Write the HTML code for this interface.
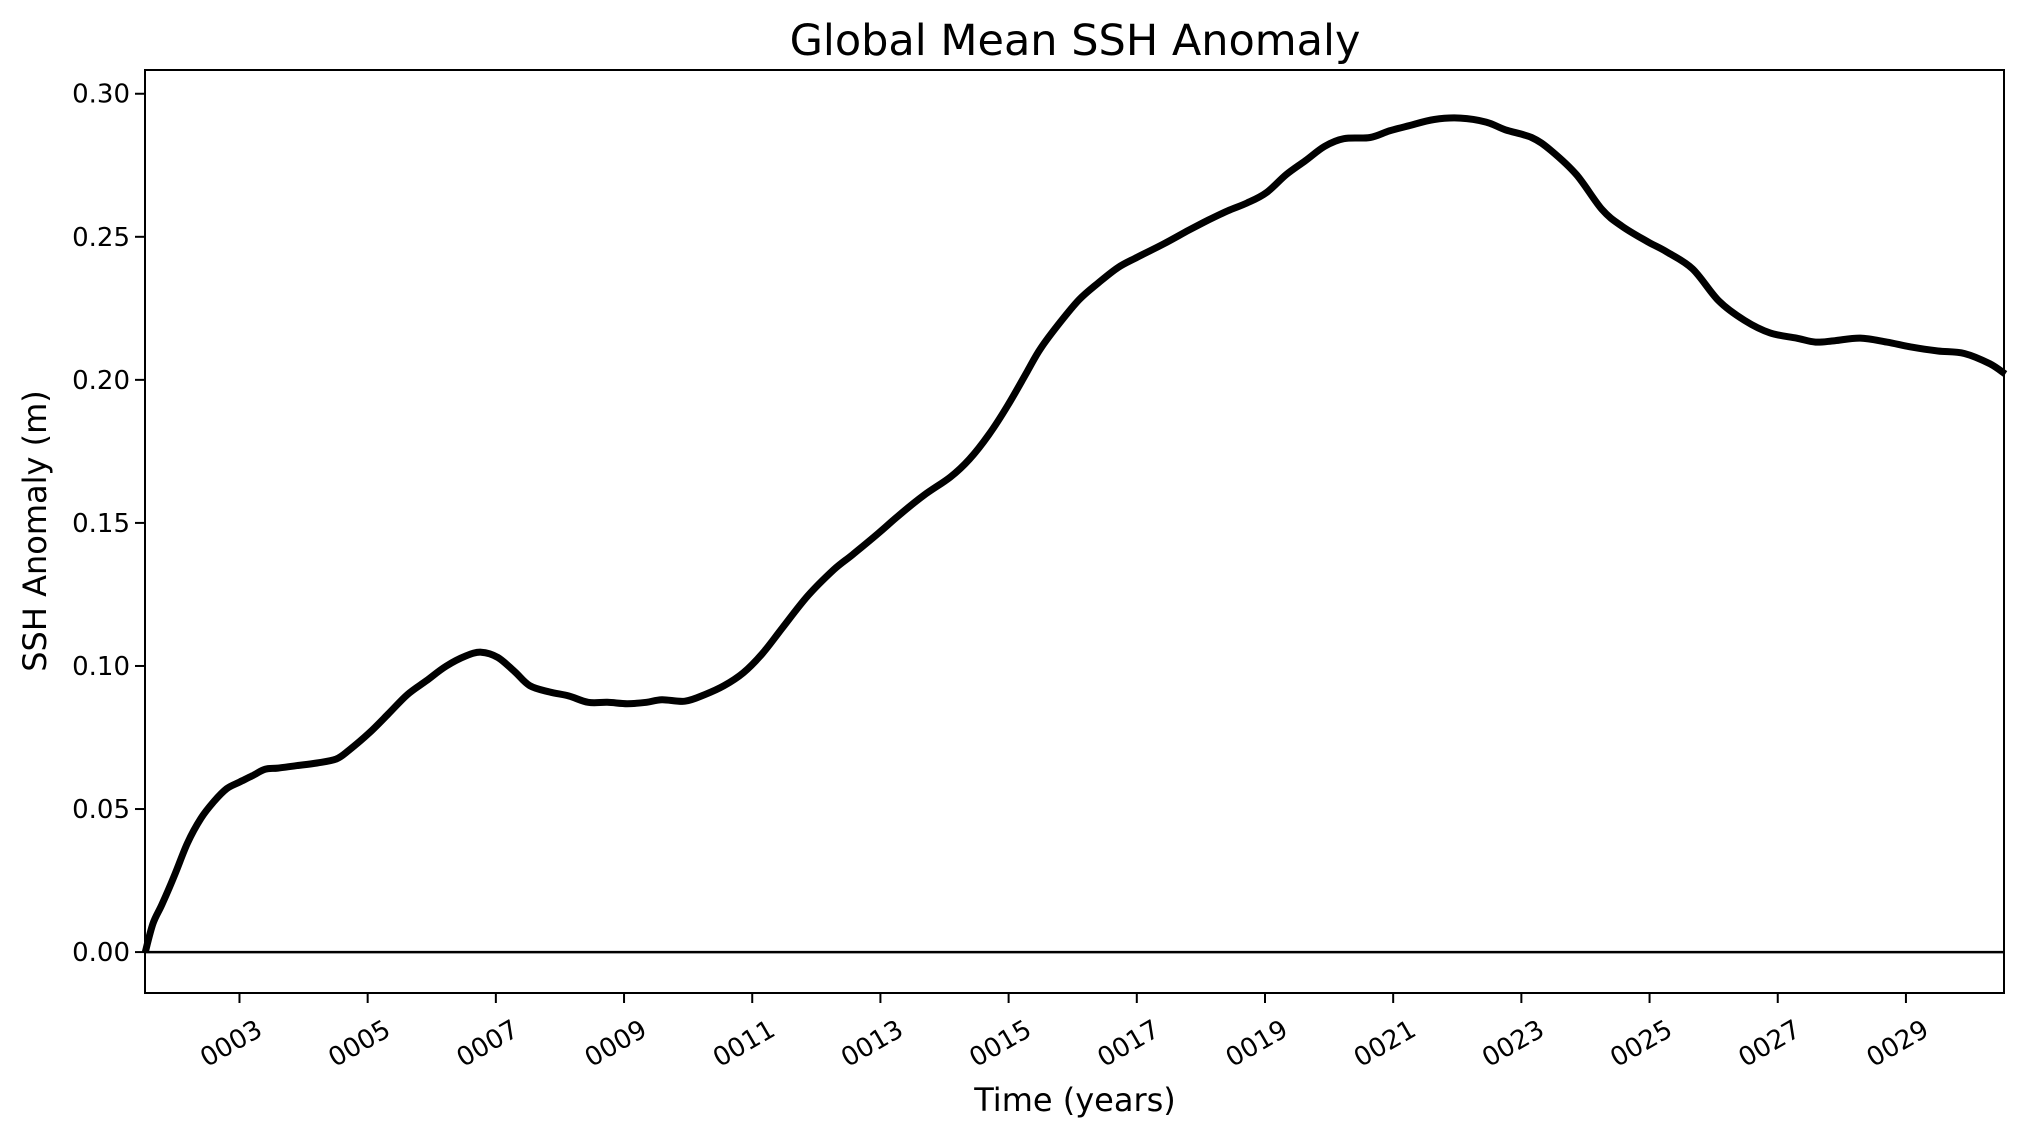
<!DOCTYPE html>
<html><head><meta charset="utf-8"><style>
html,body{margin:0;padding:0;background:#fff;}
svg{display:block;font-family:"DejaVu Sans","Liberation Sans",sans-serif;}
</style></head><body>
<svg id="chart" width="2025" height="1137" viewBox="0 0 2025 1137" xmlns="http://www.w3.org/2000/svg">
<rect width="2025" height="1137" fill="#fff"/>
<text x="1075" y="55" font-size="43" text-anchor="middle" fill="#000">Global Mean SSH Anomaly</text>
<text x="1075" y="1111" font-size="32" text-anchor="middle" fill="#000">Time (years)</text>
<text x="0" y="0" font-size="32" text-anchor="middle" fill="#000" transform="translate(46,531) rotate(-90)">SSH Anomaly (m)</text>
<g id="plot"></g>
<rect x="145" y="70" width="1859" height="923" fill="none" stroke="#000" stroke-width="2"/>
</svg>
<script>
const years = [1.53,1.65,1.79,1.99,2.19,2.40,2.60,2.80,3.0,3.20,3.40,3.60,3.91,4.21,4.51,4.71,5.02,5.32,5.62,5.92,6.22,6.53,6.77,7.03,7.29,7.53,7.84,8.14,8.44,8.74,9.05,9.35,9.59,9.95,10.26,10.56,10.86,11.16,11.47,11.87,12.27,12.57,12.98,13.28,13.68,14.09,14.39,14.69,14.99,15.29,15.50,15.80,16.10,16.40,16.71,17.01,17.41,17.81,18.12,18.42,18.72,19.02,19.33,19.63,19.93,20.23,20.64,20.94,21.24,21.64,22.05,22.45,22.75,23.16,23.46,23.86,24.26,24.57,24.97,25.27,25.67,26.08,26.48,26.88,27.29,27.59,27.89,28.29,28.70,29.10,29.50,29.91,30.31,30.55];
const ssh = [0,.0099,.0166,.0270,.0382,.0468,.0526,.0571,.0594,.0616,.0639,.0643,.0652,.0661,.0675,.0706,.0765,.0832,.0900,.0949,.0999,.1035,.1048,.1030,.0981,.0931,.0909,.0895,.0873,.0873,.0868,.0873,.0882,.0877,.0900,.0931,.0976,.1044,.1133,.1246,.1336,.1390,.1466,.1525,.1597,.1660,.1723,.1808,.1912,.2029,.2110,.2200,.2280,.2339,.2393,.2429,.2474,.2523,.2559,.2591,.2618,.2654,.2717,.2766,.2816,.2843,.2847,.2870,.2888,.2910,.2915,.2901,.2874,.2847,.2802,.2717,.2595,.2537,.2483,.2447,.2388,.2276,.2208,.2164,.2146,.2132,.2137,.2146,.2132,.2114,.2101,.2092,.2056,.2020];
const yTicks = [0,0.05,0.10,0.15,0.20,0.25,0.30];
const yTickLabels = ["0.00","0.05","0.10","0.15","0.20","0.25","0.30"];
const xTicks = [3,5,7,9,11,13,15,17,19,21,23,25,27,29];
const xTickLabels = ["0003","0005","0007","0009","0011","0013","0015","0017","0019","0021","0023","0025","0027","0029"];

const X0=145, X1=2004, Y0=70, Y1=993;
const xMin=1.526, xMax=30.53;
const yMin=-0.0143, yMax=0.3083;
function sx(v){return X0+(v-xMin)/(xMax-xMin)*(X1-X0);}
function sy(v){return Y1-(v-yMin)/(yMax-yMin)*(Y1-Y0);}
const NS="http://www.w3.org/2000/svg";
const g=document.getElementById('plot');
function mk(tag,attrs){const e=document.createElementNS(NS,tag);for(const k in attrs)e.setAttribute(k,attrs[k]);g.appendChild(e);return e;}

yTicks.forEach((v,i)=>{
  const t=mk('line',{x1:X0-10,x2:X0,y1:sy(v),y2:sy(v),stroke:'#000','stroke-width':2});
  
  
  const l=mk('text',{x:X0-15,y:sy(v)+9,'font-size':26,'text-anchor':'end',fill:'#000'});
  l.textContent=yTickLabels[i];
  
  
});
xTicks.forEach((v,i)=>{
  const x=sx(v);
  const t=mk('line',{x1:x,x2:x,y1:Y1,y2:Y1+10,stroke:'#000','stroke-width':2});
  
  
  const l=mk('text',{x:0,y:0,'font-size':26,'text-anchor':'middle',fill:'#000',transform:`translate(${x-4},${1051}) rotate(-30)`});
  l.textContent=xTickLabels[i];
  
  
});
const zl=mk('line',{x1:X0,x2:X1,y1:sy(0),y2:sy(0),stroke:'#000','stroke-width':2.5});



const pts=years.map((yr,i)=>[sx(yr),sy(ssh[i])]);
let d='M'+pts[0][0].toFixed(1)+','+pts[0][1].toFixed(1);
for(let i=0;i<pts.length-1;i++){
  const p0=pts[Math.max(0,i-1)],p1=pts[i],p2=pts[i+1],p3=pts[Math.min(pts.length-1,i+2)];
  const c1=[p1[0]+(p2[0]-p0[0])/6,p1[1]+(p2[1]-p0[1])/6];
  const c2=[p2[0]-(p3[0]-p1[0])/6,p2[1]-(p3[1]-p1[1])/6];
  d+=`C${c1[0].toFixed(1)},${c1[1].toFixed(1)} ${c2[0].toFixed(1)},${c2[1].toFixed(1)} ${p2[0].toFixed(1)},${p2[1].toFixed(1)}`;
}
const p=mk('path',{d:d,fill:'none',stroke:'#000','stroke-width':7,'stroke-linejoin':'round','stroke-linecap':'butt'});


</script>
</body></html>
